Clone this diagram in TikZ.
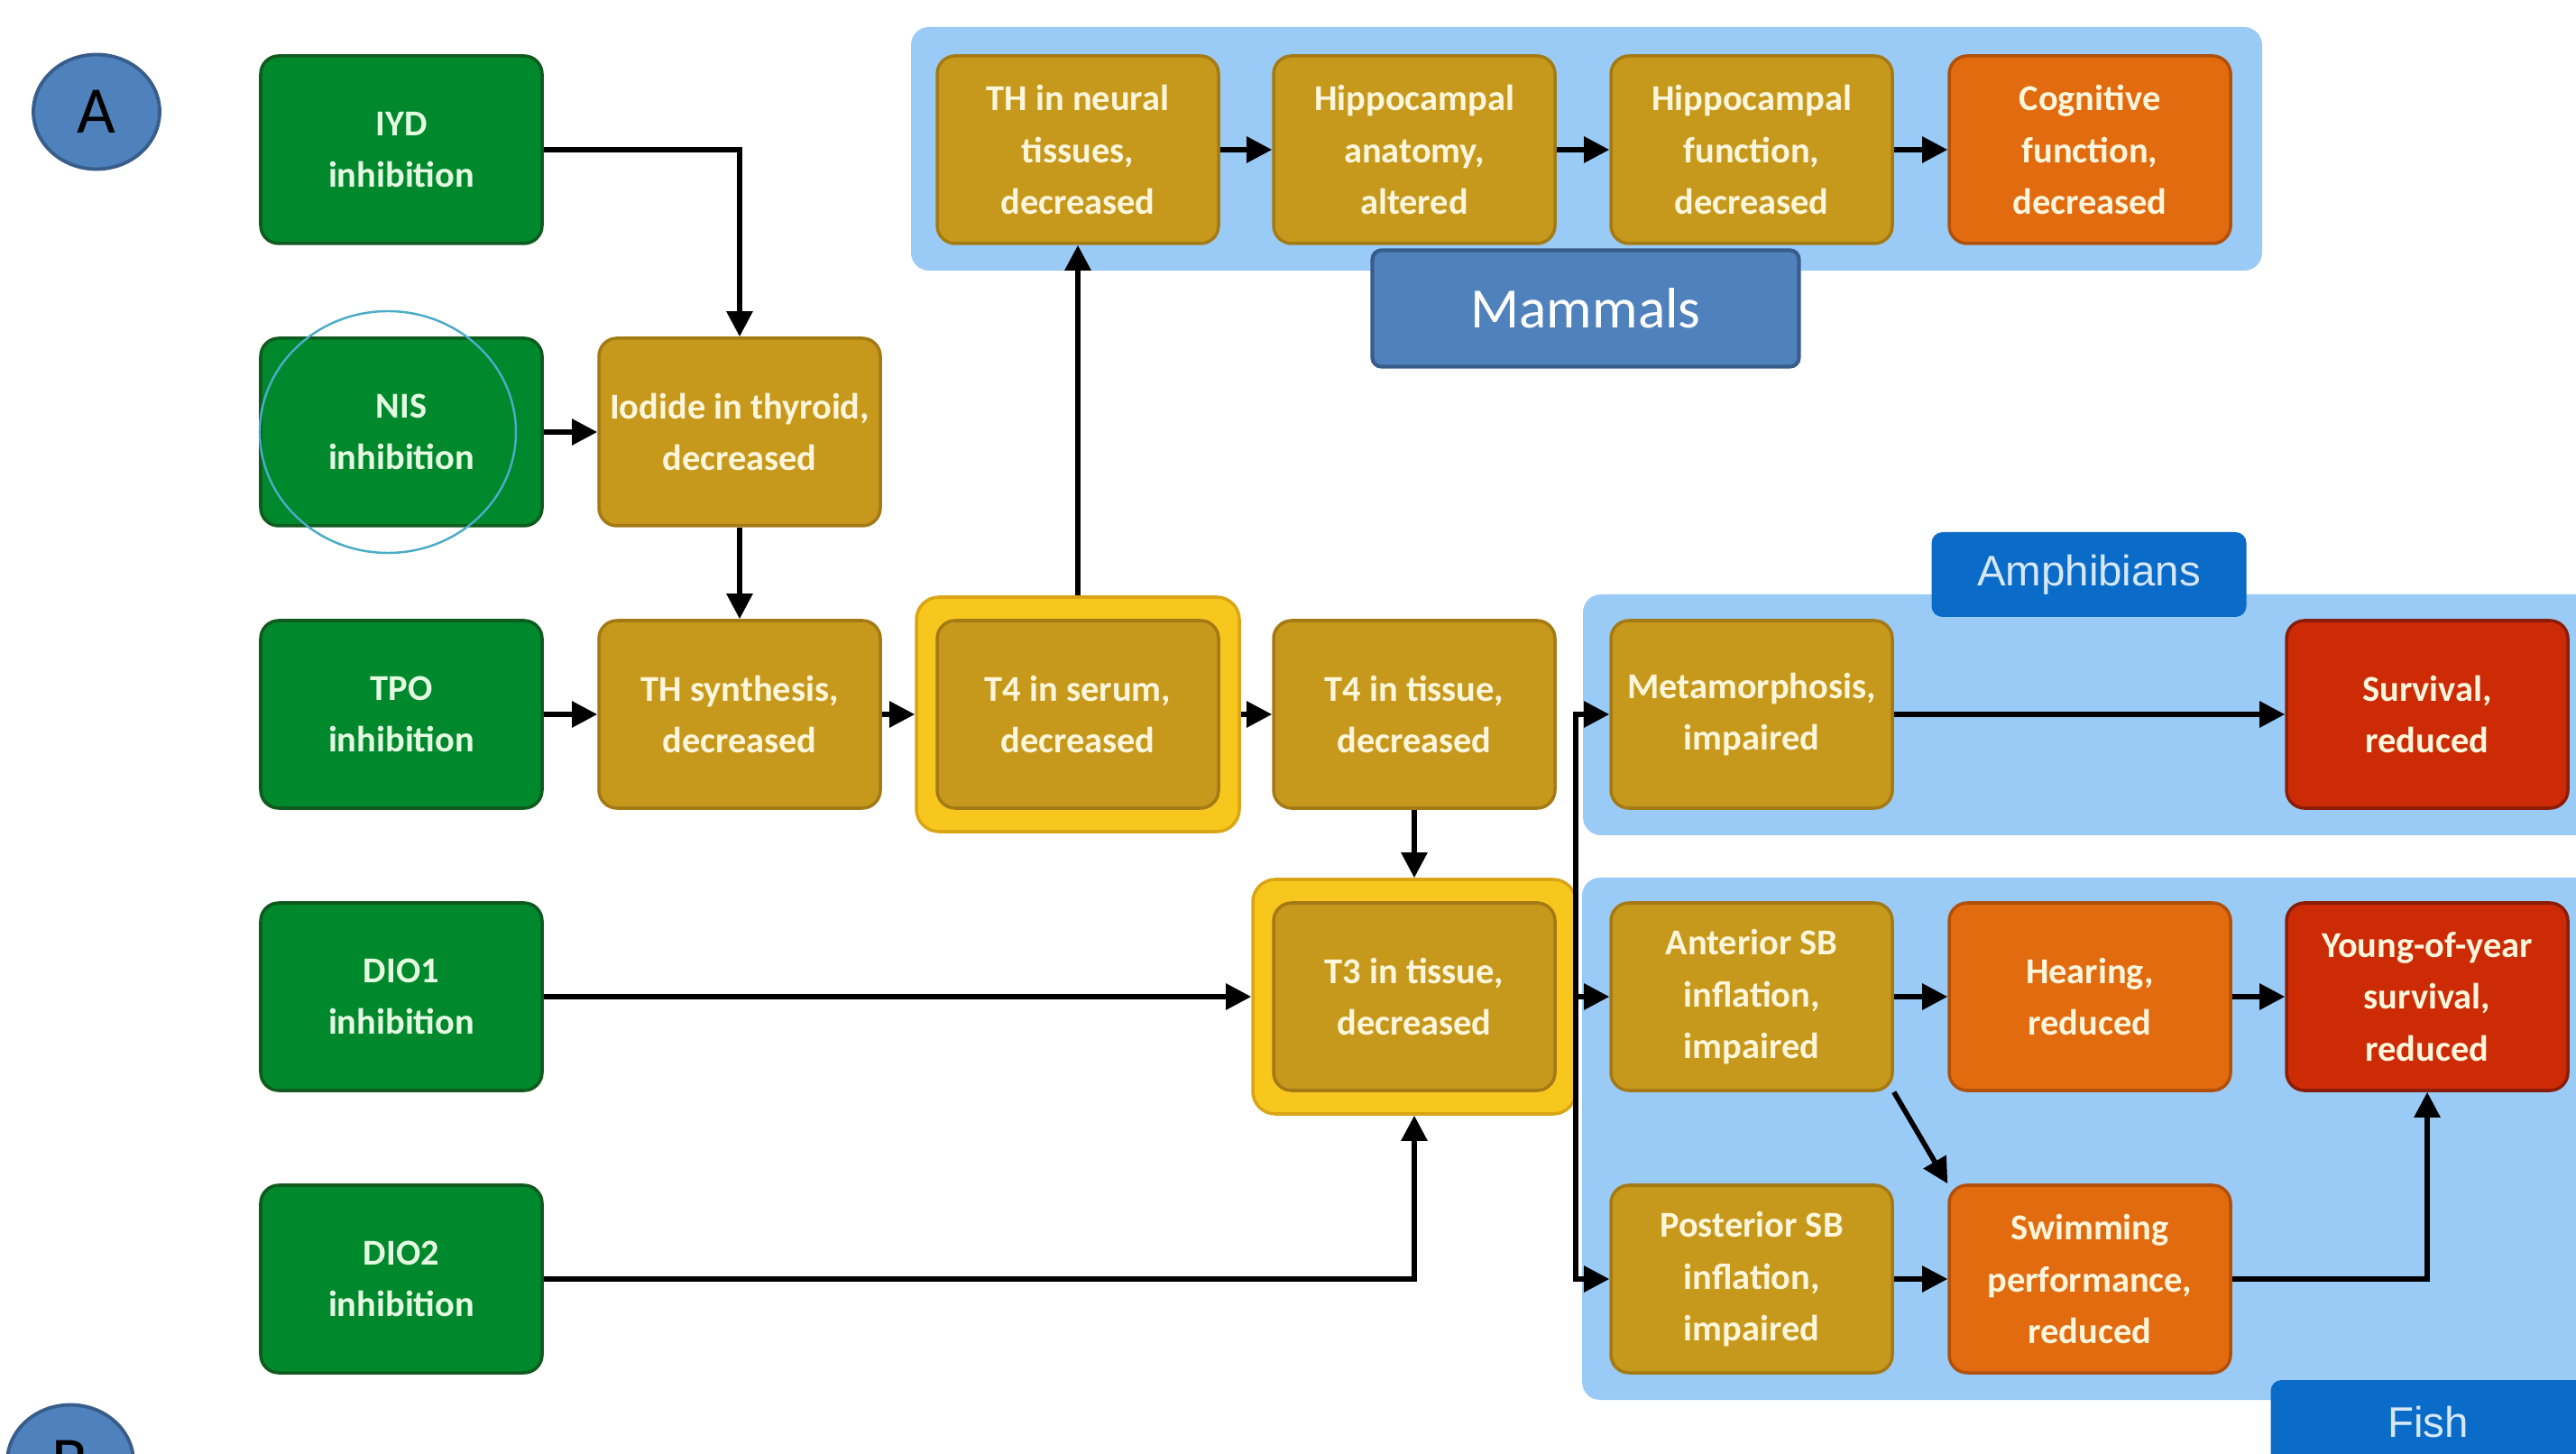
\documentclass[tikz,border=0pt]{standalone}
\usepackage{fontspec}
\setmainfont{Carlito}
\newfontfamily\taxonfont{Liberation Sans}
\usetikzlibrary{arrows.meta,shapes.geometric}
\definecolor{inhibgreen}{HTML}{00882C}
\definecolor{inhibline}{HTML}{0F5A1E}
\definecolor{inhibtext}{HTML}{E4FBE2}
\definecolor{kegold}{HTML}{C6981C}
\definecolor{kegoldline}{HTML}{A47A14}
\definecolor{aoorange}{HTML}{E26A0F}
\definecolor{aoorangeline}{HTML}{B0500A}
\definecolor{aored}{HTML}{CC2B06}
\definecolor{aoredline}{HTML}{8A1C08}
\definecolor{boxtext}{HTML}{FFF6DC}
\definecolor{hlyellow}{HTML}{F7C71D}
\definecolor{hlline}{HTML}{D9A515}
\definecolor{panelblue}{HTML}{9ACBF7}
\definecolor{taxonblue}{HTML}{0A6BC8}
\definecolor{taxontext}{HTML}{D6E8F8}
\definecolor{letterblue}{HTML}{4F81BD}
\definecolor{letterline}{HTML}{385D8A}
\definecolor{markcyan}{HTML}{4BACC6}
\begin{document}
\begin{tikzpicture}[
        every node/.style={align=center},
        box/.style={draw,rounded corners=0.2cm,line width=1pt,minimum width=3.12cm,minimum height=2.08cm,
            font=\fontsize{11.5}{16.4}\selectfont\bfseries,text=boxtext},
        inhib/.style={box,fill=inhibgreen,draw=inhibline,text=inhibtext},
        ke/.style={box,fill=kegold,draw=kegoldline},
        ao/.style={box,fill=aoorange,draw=aoorangeline},
        fatal/.style={box,fill=aored,draw=aoredline},
        highlight/.style={draw=hlline,fill=hlyellow,rounded corners=0.25cm,line width=1pt,minimum width=3.58cm,minimum height=2.6cm},
        panel/.style={fill=panelblue,rounded corners=0.2cm},
        taxon/.style={fill=taxonblue,rounded corners=0.12cm,text=taxontext,
            font=\taxonfont\fontsize{13.5}{16}\selectfont,minimum width=3.49cm,minimum height=0.94cm},
        arr/.style={line width=1.6pt,-{Triangle[length=8pt,width=8pt]}},
        panelletter/.style={ellipse,draw=letterline,fill=letterblue,line width=1.1pt,
            minimum width=1.40cm,minimum height=1.27cm,font=\fontsize{21}{21}\selectfont},
        ]
    \useasboundingbox (0,0) rectangle (28.56,-16.12);

    % taxon panels
    \fill[panel] (10.10,-0.30) rectangle (25.08,-3.00);
    \fill[panel] (17.55,-6.59) rectangle (29.00,-9.26);
    \fill[panel] (17.54,-9.73) rectangle (29.00,-15.52);

    % highlighted key events
    \node (t4serhl) [highlight] at (11.95,-7.92) {};
    \node (t3hl) [highlight] at (15.68,-11.05) {};

    % molecular initiating events
    \node (iyd) [inhib] at (4.45,-1.66) {IYD\\inhibition};
    \node (nis) [inhib] at (4.45,-4.79) {NIS\\inhibition};
    \node (tpo) [inhib] at (4.45,-7.92) {TPO\\inhibition};
    \node (dio1) [inhib] at (4.45,-11.05) {DIO1\\inhibition};
    \node (dio2) [inhib] at (4.45,-14.18) {DIO2\\inhibition};

    % key events
    \node (iodide) [ke] at (8.20,-4.79) {Iodide in thyroid,\\decreased};
    \node (thsyn) [ke] at (8.20,-7.92) {TH synthesis,\\decreased};
    \node (t4ser) [ke] at (11.95,-7.92) {T4 in serum,\\decreased};
    \node (t4tis) [ke] at (15.68,-7.92) {T4 in tissue,\\decreased};
    \node (t3tis) [ke] at (15.68,-11.05) {T3 in tissue,\\decreased};

    % mammals
    \node (thneural) [ke] at (11.95,-1.66) {TH in neural\\tissues,\\decreased};
    \node (hippanat) [ke] at (15.68,-1.66) {Hippocampal\\anatomy,\\altered};
    \node (hippfunc) [ke] at (19.42,-1.66) {Hippocampal\\function,\\decreased};
    \node (cognit) [ao] at (23.17,-1.66) {Cognitive\\function,\\decreased};
    \node (mammals) [draw=letterline,fill=letterblue,line width=1.2pt,rounded corners=0.1cm,
        minimum width=4.73cm,minimum height=1.29cm,text=white,font=\fontsize{18}{18}\selectfont]
        at (17.58,-3.42) {Mammals};

    % amphibians
    \node (meta) [ke] at (19.42,-7.92) {Metamorphosis,\\impaired};
    \node (surv) [fatal] at (26.91,-7.92) {Survival,\\reduced};
    \node (amphib) [taxon] at (23.16,-6.37) {Amphibians};

    % fish
    \node (antsb) [ke] at (19.42,-11.05) {Anterior SB\\inflation,\\impaired};
    \node (hearing) [ao] at (23.17,-11.05) {Hearing,\\reduced};
    \node (young) [fatal] at (26.91,-11.05) {Young-of-year\\survival,\\reduced};
    \node (postsb) [ke] at (19.42,-14.18) {Posterior SB\\inflation,\\impaired};
    \node (swim) [ao] at (23.17,-14.18) {Swimming\\performance,\\reduced};
    \node (fish) [taxon] at (26.92,-15.77) {Fish};

    % panel letters and mark
    \node (panelA) [panelletter] at (1.07,-1.24) {A};
    \node (panelB) [panelletter] at (0.78,-16.21) {B};
    \draw[markcyan,line width=0.7pt] (4.30,-4.79) ellipse (1.42 and 1.34);

    % connectors
    \draw[arr] (iyd.east) -| (iodide.north);
    \draw[arr] (nis) -- (iodide);
    \draw[arr] (iodide) -- (thsyn);
    \draw[arr] (tpo) -- (thsyn);
    \draw[arr] (thsyn) -- (t4serhl);
    \draw[arr] (t4serhl.north) -- (thneural.south);
    \draw[arr] (t4serhl) -- (t4tis);
    \draw[arr] (t4tis) -- (t3hl);
    \draw[arr] (dio1) -- (t3hl);
    \draw[arr] (dio2.east) -| (t3hl.south);
    \draw[arr] (thneural) -- (hippanat);
    \draw[arr] (hippanat) -- (hippfunc);
    \draw[arr] (hippfunc) -- (cognit);
    \coordinate (fork) at (17.47,-11.05);
    \draw[line width=1.6pt] (t3hl.east) -- (fork);
    \draw[arr] (fork) |- (meta.west);
    \draw[arr] (fork) -- (antsb.west);
    \draw[arr] (fork) |- (postsb.west);
    \draw[arr] (meta) -- (surv);
    \draw[arr] (antsb) -- (hearing);
    \draw[arr] (hearing) -- (young);
    \draw[arr] (antsb.south east) -- (swim.north west);
    \draw[arr] (postsb) -- (swim);
    \draw[arr] (swim.east) -| (young.south);
\end{tikzpicture}
\end{document}
